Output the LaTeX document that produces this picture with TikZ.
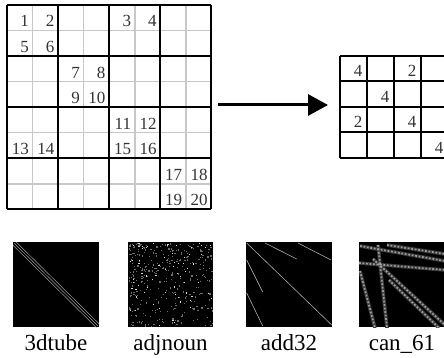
\documentclass[tikz,border=0pt]{standalone}
\usepackage{fontspec}
\setmainfont{Liberation Serif}
\usepackage{tikz}
\usetikzlibrary{arrows.meta,positioning,calc}
\definecolor{GridGray}{HTML}{C8C8C8}
\definecolor{NumGray}{HTML}{333333}
\definecolor{DotGray}{HTML}{6E6E6E}
\definecolor{HazeGray}{HTML}{3A3A3A}
\definecolor{BandGray}{HTML}{9C9C9C}

\begin{document}
\begin{tikzpicture}[x=1pt, y=-1pt, >=Latex,
  num/.style={anchor=base east, inner sep=0pt, text=NumGray, font=\fontsize{17}{20}\selectfont},
  caption/.style={anchor=base, inner sep=0pt, font=\fontsize{23}{25}\selectfont},
  thingrid/.style={GridGray, line width=1.5pt},
  thickgrid/.style={black, line width=2pt},
  matbox/.style={fill=black, draw=none},
  band/.style={gray!75, line width=0.5pt},
  spark/.style={gray!65, line width=0.6pt},
  haze/.style={HazeGray, line width=3.6pt},
  dotband/.style={BandGray, line width=1.7pt, dash pattern=on 1.8pt off 1.7pt}]
  \clip (0,0) rectangle (444,358);

  % big 8x8 grid
  \foreach \i in {1,3,5,7} {
    \draw[thingrid] (7+25.55*\i,5) -- (7+25.55*\i,209.4);
    \draw[thingrid] (7,5+25.55*\i) -- (211.4,5+25.55*\i);
  }
  \foreach \i in {0,2,4,6,8} {
    \draw[thickgrid] (7+25.55*\i,5) -- (7+25.55*\i,209.4);
    \draw[thickgrid] (7,5+25.55*\i) -- (211.4,5+25.55*\i);
  }
  \foreach \n/\c/\r in {1/0/0,2/1/0,3/4/0,4/5/0,5/0/1,6/1/1,7/2/2,8/3/2,9/2/3,10/3/3,
                        11/4/4,12/5/4,13/0/5,14/1/5,15/4/5,16/5/5,17/6/6,18/7/6,19/6/7,20/7/7}
    \node[num] (n\n) at (7+25.55*\c+22,5+25.55*\r+22) {\n};

  % small 4x4 grid
  \foreach \i in {0,...,4} {
    \draw[thickgrid] (340+27*\i,56) -- (340+27*\i,158);
    \draw[thickgrid] (340,56+25.5*\i) -- (448,56+25.5*\i);
  }
  \foreach \v/\c/\r [count=\k] in {4/0/0,2/2/0,4/1/1,2/0/2,4/2/2,4/3/3}
    \node[num] (s\k) at (340+27*\c+22.5,56+25.5*\r+21) {\v};

  \coordinate (from) at (218,105);
  \coordinate (to) at (328,105);
  \draw[-{Triangle[length=20pt,width=21pt]}, line width=3pt] (from) -- (to);

  % sparsity patterns
  \fill[matbox] (13,242) rectangle (99,327);
  \begin{scope}
    \clip (13,242) rectangle (99,327);
    \foreach \o in {-1.6,0,1.6}
      \draw[band] (14+\o,243-\o) -- (98+\o,326-\o);
  \end{scope}

  \fill[matbox] (128,242) rectangle (213,327);
  \begin{scope}
    \clip (128,242) rectangle (213,327);
    \pgfmathsetseed{42}
    \foreach \k in {1,...,330} {
      \pgfmathsetmacro\px{129+83*rnd^1.2}
      \pgfmathsetmacro\py{243+83*rnd^1.3}
      \fill[DotGray] (\px,\py) rectangle ++(1.2,1.2);
    }
    \foreach \k in {1,...,70} {
      \pgfmathsetmacro\px{129+83*rnd^1.4}
      \pgfmathsetmacro\py{243+83*rnd^1.5}
      \fill[gray!30] (\px,\py) rectangle ++(1.1,1.1);
    }
  \end{scope}

  \fill[matbox] (246,242) rectangle (332,327);
  \begin{scope}[shift={(246,242)}]
    \draw[spark] (0.7,1) -- (85.7,83);
    \draw[spark] (19,1) -- (50.7,17);
    \draw[spark] (52,1) -- (85,18);
    \draw[spark] (0.7,18) -- (16.7,50);
    \draw[spark] (0.7,51) -- (16.7,84);
  \end{scope}

  \fill[matbox] (359,242) rectangle (445,327);
  \begin{scope}[shift={(359,242)}]
    \clip (0,0) rectangle (86,85);
    \foreach \a/\b/\c/\d in {1/4/86/19, 28/3/86/12, 0/21/86/28, 19/3/28/86,
                             1/29/16/86, 14/17/86/83, 30/38/80/86}
      \draw[haze] (\a,\b) -- (\c,\d);
    \foreach \a/\b/\c/\d in {1/4/86/19, 28/3/86/12, 0/21/86/28, 19/3/28/86,
                             1/29/16/86, 14/17/86/83, 30/38/80/86}
      \draw[dotband] (\a,\b) -- (\c,\d);
  \end{scope}

  \node[caption] (tube) at (56,350) {3dtube};
  \node[caption] (adj) at (170.5,350) {adjnoun};
  \node[caption] (add) at (289,350) {add32};
  \node[caption] (can) at (402,350) {can\_61};
\end{tikzpicture}
\end{document}
